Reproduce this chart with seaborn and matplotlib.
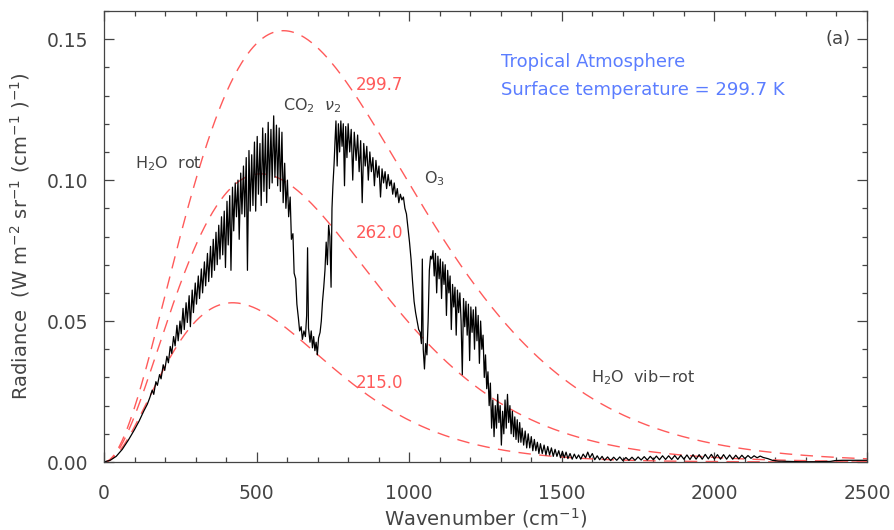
import numpy as np
import pandas as pd
import matplotlib
matplotlib.use("Agg")
import matplotlib.pyplot as plt
from matplotlib.ticker import MultipleLocator
import seaborn as sns

# Upwelling radiance spectrum, tropical atmosphere
spectrum_wn = [
    0, 20, 40, 60, 80, 100, 115, 130, 142, 150,
    158, 163, 170, 175, 182, 187, 194, 199, 206, 211,
    217, 222, 228, 233, 239, 243, 249, 253, 259, 263,
    269, 273, 279, 283, 289, 293, 299, 303, 309, 313,
    319, 323, 329, 333, 339, 343, 349, 353, 358, 362,
    367, 371, 376, 380, 385, 389, 394, 398, 403, 407,
    412, 416, 421, 425, 430, 434, 439, 443, 448, 452,
    457, 461, 466, 470, 475, 479, 484, 488, 493, 497,
    502, 506, 511, 515, 520, 524, 529, 533, 538, 542,
    547, 551, 556, 560, 565, 569, 574, 578, 583, 587,
    592, 596, 601, 605, 610, 614, 619, 623, 628, 632,
    637, 641, 646, 650, 655, 660, 664, 667, 670, 675,
    679, 683, 687, 691, 695, 699, 703, 708, 712, 716,
    720, 724, 728, 732, 736, 740, 744, 747, 750, 754,
    757, 760, 764, 768, 772, 776, 780, 784, 788, 792,
    796, 800, 805, 810, 815, 820, 826, 831, 836, 841,
    846, 851, 856, 861, 866, 871, 876, 881, 886, 891,
    896, 901, 906, 911, 916, 921, 926, 931, 936, 941,
    946, 951, 956, 961, 966, 971, 976, 981, 986, 991,
    996, 1001, 1006, 1011, 1016, 1021, 1026, 1031, 1036, 1040,
    1043, 1046, 1050, 1054, 1058, 1062, 1066, 1070, 1074, 1078,
    1082, 1086, 1090, 1094, 1098, 1102, 1106, 1110, 1114, 1118,
    1122, 1126, 1130, 1134, 1138, 1142, 1146, 1150, 1154, 1158,
    1162, 1166, 1170, 1174, 1178, 1182, 1186, 1190, 1194, 1198,
    1202, 1206, 1210, 1214, 1218, 1222, 1226, 1230, 1234, 1238,
    1242, 1246, 1250, 1254, 1258, 1262, 1266, 1270, 1274, 1278,
    1282, 1286, 1290, 1294, 1298, 1302, 1306, 1310, 1314, 1318,
    1322, 1326, 1330, 1334, 1338, 1342, 1346, 1350, 1354, 1358,
    1362, 1366, 1370, 1375, 1380, 1385, 1390, 1395, 1400, 1405,
    1410, 1415, 1420, 1425, 1430, 1436, 1442, 1448, 1454, 1460,
    1466, 1472, 1478, 1484, 1490, 1496, 1502, 1508, 1514, 1520,
    1527, 1534, 1541, 1548, 1555, 1562, 1570, 1578, 1585, 1592,
    1600, 1608, 1616, 1624, 1632, 1640, 1650, 1660, 1670, 1680,
    1690, 1700, 1710, 1720, 1730, 1740, 1750, 1760, 1770, 1780,
    1790, 1800, 1810, 1820, 1830, 1840, 1850, 1860, 1870, 1880,
    1890, 1900, 1910, 1920, 1930, 1940, 1950, 1960, 1970, 1980,
    1990, 2000, 2010, 2020, 2030, 2040, 2050, 2060, 2070, 2080,
    2090, 2100, 2110, 2120, 2130, 2140, 2150, 2160, 2175, 2190,
    2210, 2240, 2280, 2330, 2380, 2395, 2420, 2460, 2500,
]
spectrum_rad = [
    0.0, 0.0006, 0.0020, 0.0045, 0.0078, 0.0115, 0.0145, 0.0180, 0.0205, 0.0228,
    0.0255, 0.0240, 0.0285, 0.0272, 0.0310, 0.0295, 0.0345, 0.0325, 0.0375, 0.0352,
    0.0410, 0.0385, 0.0445, 0.0412, 0.0485, 0.0430, 0.0500, 0.0455, 0.0545, 0.0470,
    0.0565, 0.0495, 0.0590, 0.0480, 0.0610, 0.0530, 0.0635, 0.0560, 0.0660, 0.0580,
    0.0685, 0.0600, 0.0710, 0.0625, 0.0740, 0.0640, 0.0765, 0.0655, 0.0790, 0.0680,
    0.0815, 0.0700, 0.0840, 0.0720, 0.0870, 0.0735, 0.0890, 0.0690, 0.0925, 0.0770,
    0.0945, 0.0680, 0.0975, 0.0820, 0.0990, 0.0870, 0.1000, 0.0790, 0.1025, 0.0880,
    0.1050, 0.0870, 0.1080, 0.0680, 0.1105, 0.0890, 0.1090, 0.0910, 0.1135, 0.0890,
    0.1155, 0.0950, 0.1130, 0.0910, 0.1185, 0.0960, 0.1165, 0.0920, 0.1205, 0.0970,
    0.1180, 0.0990, 0.1228, 0.1010, 0.1195, 0.0980, 0.1185, 0.0960, 0.1170, 0.0920,
    0.1060, 0.0900, 0.1000, 0.0870, 0.0940, 0.0790, 0.0810, 0.0670, 0.0650, 0.0560,
    0.0510, 0.0465, 0.0480, 0.0435, 0.0465, 0.0445, 0.0520, 0.0760, 0.0475, 0.0425,
    0.0465, 0.0405, 0.0445, 0.0395, 0.0425, 0.0380, 0.0440, 0.0460, 0.0500, 0.0570,
    0.0620, 0.0680, 0.0780, 0.0700, 0.0840, 0.0800, 0.0620, 0.0900, 0.0980, 0.1060,
    0.1140, 0.1210, 0.1050, 0.1200, 0.1100, 0.1210, 0.1120, 0.1200, 0.0980, 0.1190,
    0.1080, 0.1200, 0.1100, 0.1180, 0.1000, 0.1170, 0.1070, 0.1160, 0.1030, 0.1140,
    0.0920, 0.1130, 0.1050, 0.1120, 0.1000, 0.1100, 0.1030, 0.1080, 0.0980, 0.1070,
    0.1010, 0.1050, 0.0940, 0.1040, 0.0990, 0.1030, 0.0970, 0.1020, 0.0980, 0.1000,
    0.0950, 0.0990, 0.0940, 0.0970, 0.0920, 0.0950, 0.0930, 0.0940, 0.0900, 0.0880,
    0.0830, 0.0780, 0.0720, 0.0640, 0.0570, 0.0530, 0.0500, 0.0470, 0.0460, 0.0420,
    0.0720, 0.0400, 0.0330, 0.0420, 0.0380, 0.0500, 0.0680, 0.0730, 0.0720, 0.0750,
    0.0660, 0.0740, 0.0600, 0.0730, 0.0650, 0.0720, 0.0580, 0.0710, 0.0630, 0.0700,
    0.0520, 0.0680, 0.0600, 0.0660, 0.0470, 0.0630, 0.0550, 0.0620, 0.0450, 0.0610,
    0.0530, 0.0600, 0.0500, 0.0310, 0.0580, 0.0480, 0.0570, 0.0450, 0.0560, 0.0360,
    0.0550, 0.0460, 0.0540, 0.0400, 0.0550, 0.0430, 0.0520, 0.0350, 0.0500, 0.0400,
    0.0450, 0.0300, 0.0380, 0.0260, 0.0320, 0.0200, 0.0280, 0.0120, 0.0220, 0.0090,
    0.0200, 0.0120, 0.0240, 0.0140, 0.0200, 0.0060, 0.0180, 0.0100, 0.0220, 0.0120,
    0.0240, 0.0140, 0.0200, 0.0100, 0.0180, 0.0090, 0.0160, 0.0080, 0.0150, 0.0070,
    0.0140, 0.0070, 0.0120, 0.0060, 0.0110, 0.0050, 0.0100, 0.0050, 0.0090, 0.0040,
    0.0080, 0.0040, 0.0070, 0.0030, 0.0065, 0.0030, 0.0060, 0.0025, 0.0055, 0.0025,
    0.0050, 0.0020, 0.0045, 0.0020, 0.0040, 0.0015, 0.0038, 0.0015, 0.0035, 0.0012,
    0.0030, 0.0010, 0.0028, 0.0012, 0.0025, 0.0010, 0.0028, 0.0015, 0.0035, 0.0015,
    0.0030, 0.0008, 0.0022, 0.0008, 0.0020, 0.0006, 0.0018, 0.0005, 0.0017, 0.0006,
    0.0018, 0.0005, 0.0016, 0.0006, 0.0017, 0.0006, 0.0018, 0.0007, 0.0019, 0.0007,
    0.0020, 0.0008, 0.0021, 0.0008, 0.0022, 0.0009, 0.0022, 0.0009, 0.0023, 0.0009,
    0.0024, 0.0010, 0.0025, 0.0009, 0.0026, 0.0010, 0.0026, 0.0010, 0.0027, 0.0011,
    0.0027, 0.0011, 0.0026, 0.0010, 0.0026, 0.0010, 0.0025, 0.0010, 0.0024, 0.0011,
    0.0024, 0.0012, 0.0023, 0.0013, 0.0022, 0.0015, 0.0021, 0.0016, 0.0012, 0.0006,
    0.0003, 0.0002, 0.0001, 0.0001, 0.0002, 0.0005, 0.0006, 0.0006, 0.0006,
]

# Blackbody reference temperatures (K) and their label positions
planck_temps = [299.7, 262.0, 215.0]
planck_label_wn = [825, 825, 825]
planck_label_rad = [0.1336, 0.0812, 0.0280]

# Band annotations
band_labels = [r"H$_2$O  rot", r"CO$_2$  $\nu_2$", r"O$_3$", r"H$_2$O  vib$-$rot"]
band_wn = [100, 585, 1050, 1597]
band_rad = [0.1060, 0.1265, 0.1006, 0.0298]

# Planck radiance in W m^-2 sr^-1 (cm^-1)^-1
C1 = 1.191042e-8
C2 = 1.4387752


def planck(wn, temp):
    return C1 * wn**3 / np.expm1(C2 * wn / temp)


sns.set_theme(style="white")
plt.rcParams["font.family"] = ["DejaVu Sans"]
plt.rcParams["mathtext.fontset"] = "dejavusans"

fig = plt.figure(figsize=(8.95, 5.30), dpi=100)
ax = fig.add_axes([104 / 895, 68 / 530, 763 / 895, 451 / 530])

red = "#ff5a5a"
blue = "#5b7dff"
grey = "#444444"

wn_grid = np.linspace(1.0, 2500.0, 600)
for t in planck_temps:
    df_bb = pd.DataFrame({"wn": wn_grid, "rad": planck(wn_grid, t)})
    sns.lineplot(data=df_bb, x="wn", y="rad", ax=ax, color=red, lw=1.0,
                 estimator=None, sort=False)
    ax.lines[-1].set_dashes((9, 6))

df_spec = pd.DataFrame({"wn": spectrum_wn, "rad": spectrum_rad})
sns.lineplot(data=df_spec, x="wn", y="rad", ax=ax, color="black", lw=0.9,
             estimator=None, sort=False)

for t, x, y in zip(planck_temps, planck_label_wn, planck_label_rad):
    ax.text(x, y, f"{t:.1f}", color=red, fontsize=12, ha="left", va="center")

for s, x, y in zip(band_labels, band_wn, band_rad):
    ax.text(x, y, s, color=grey, fontsize=11.5, ha="left", va="center")

ax.text(1300, 0.1418, "Tropical Atmosphere", color=blue, fontsize=13,
        ha="left", va="center")
ax.text(1300, 0.1318, "Surface temperature = 299.7 K", color=blue, fontsize=13,
        ha="left", va="center")
ax.text(2445, 0.1500, "(a)", color=grey, fontsize=13, ha="right", va="center")

ax.set_xlim(0, 2500)
ax.set_ylim(0, 0.16)
ax.xaxis.set_major_locator(MultipleLocator(500))
ax.xaxis.set_minor_locator(MultipleLocator(100))
ax.yaxis.set_major_locator(MultipleLocator(0.05))
ax.yaxis.set_minor_locator(MultipleLocator(0.01))
ax.xaxis.set_major_formatter(matplotlib.ticker.FormatStrFormatter("%d"))
ax.yaxis.set_major_formatter(matplotlib.ticker.FormatStrFormatter("%.2f"))

ax.tick_params(which="both", direction="in", top=True, right=True,
               bottom=True, left=True, color=grey, labelcolor=grey,
               labelsize=13.5, width=0.9)
ax.tick_params(which="major", length=7)
ax.tick_params(which="minor", length=3.5)
ax.tick_params(axis="x", which="major", pad=16)
ax.tick_params(axis="y", which="major", pad=11.5)

for sp in ax.spines.values():
    sp.set_color(grey)
    sp.set_linewidth(0.9)

ax.set_xlabel(r"Wavenumber (cm$^{-1}$)", fontsize=14, color=grey, labelpad=2)
ax.set_ylabel(r"Radiance  (W m$^{-2}$ sr$^{-1}$ (cm$^{-1}$ )$^{-1}$)",
              fontsize=14, color=grey)
ax.yaxis.set_label_coords(-0.095, 0.5)

fig.savefig("out.png", dpi=100)
